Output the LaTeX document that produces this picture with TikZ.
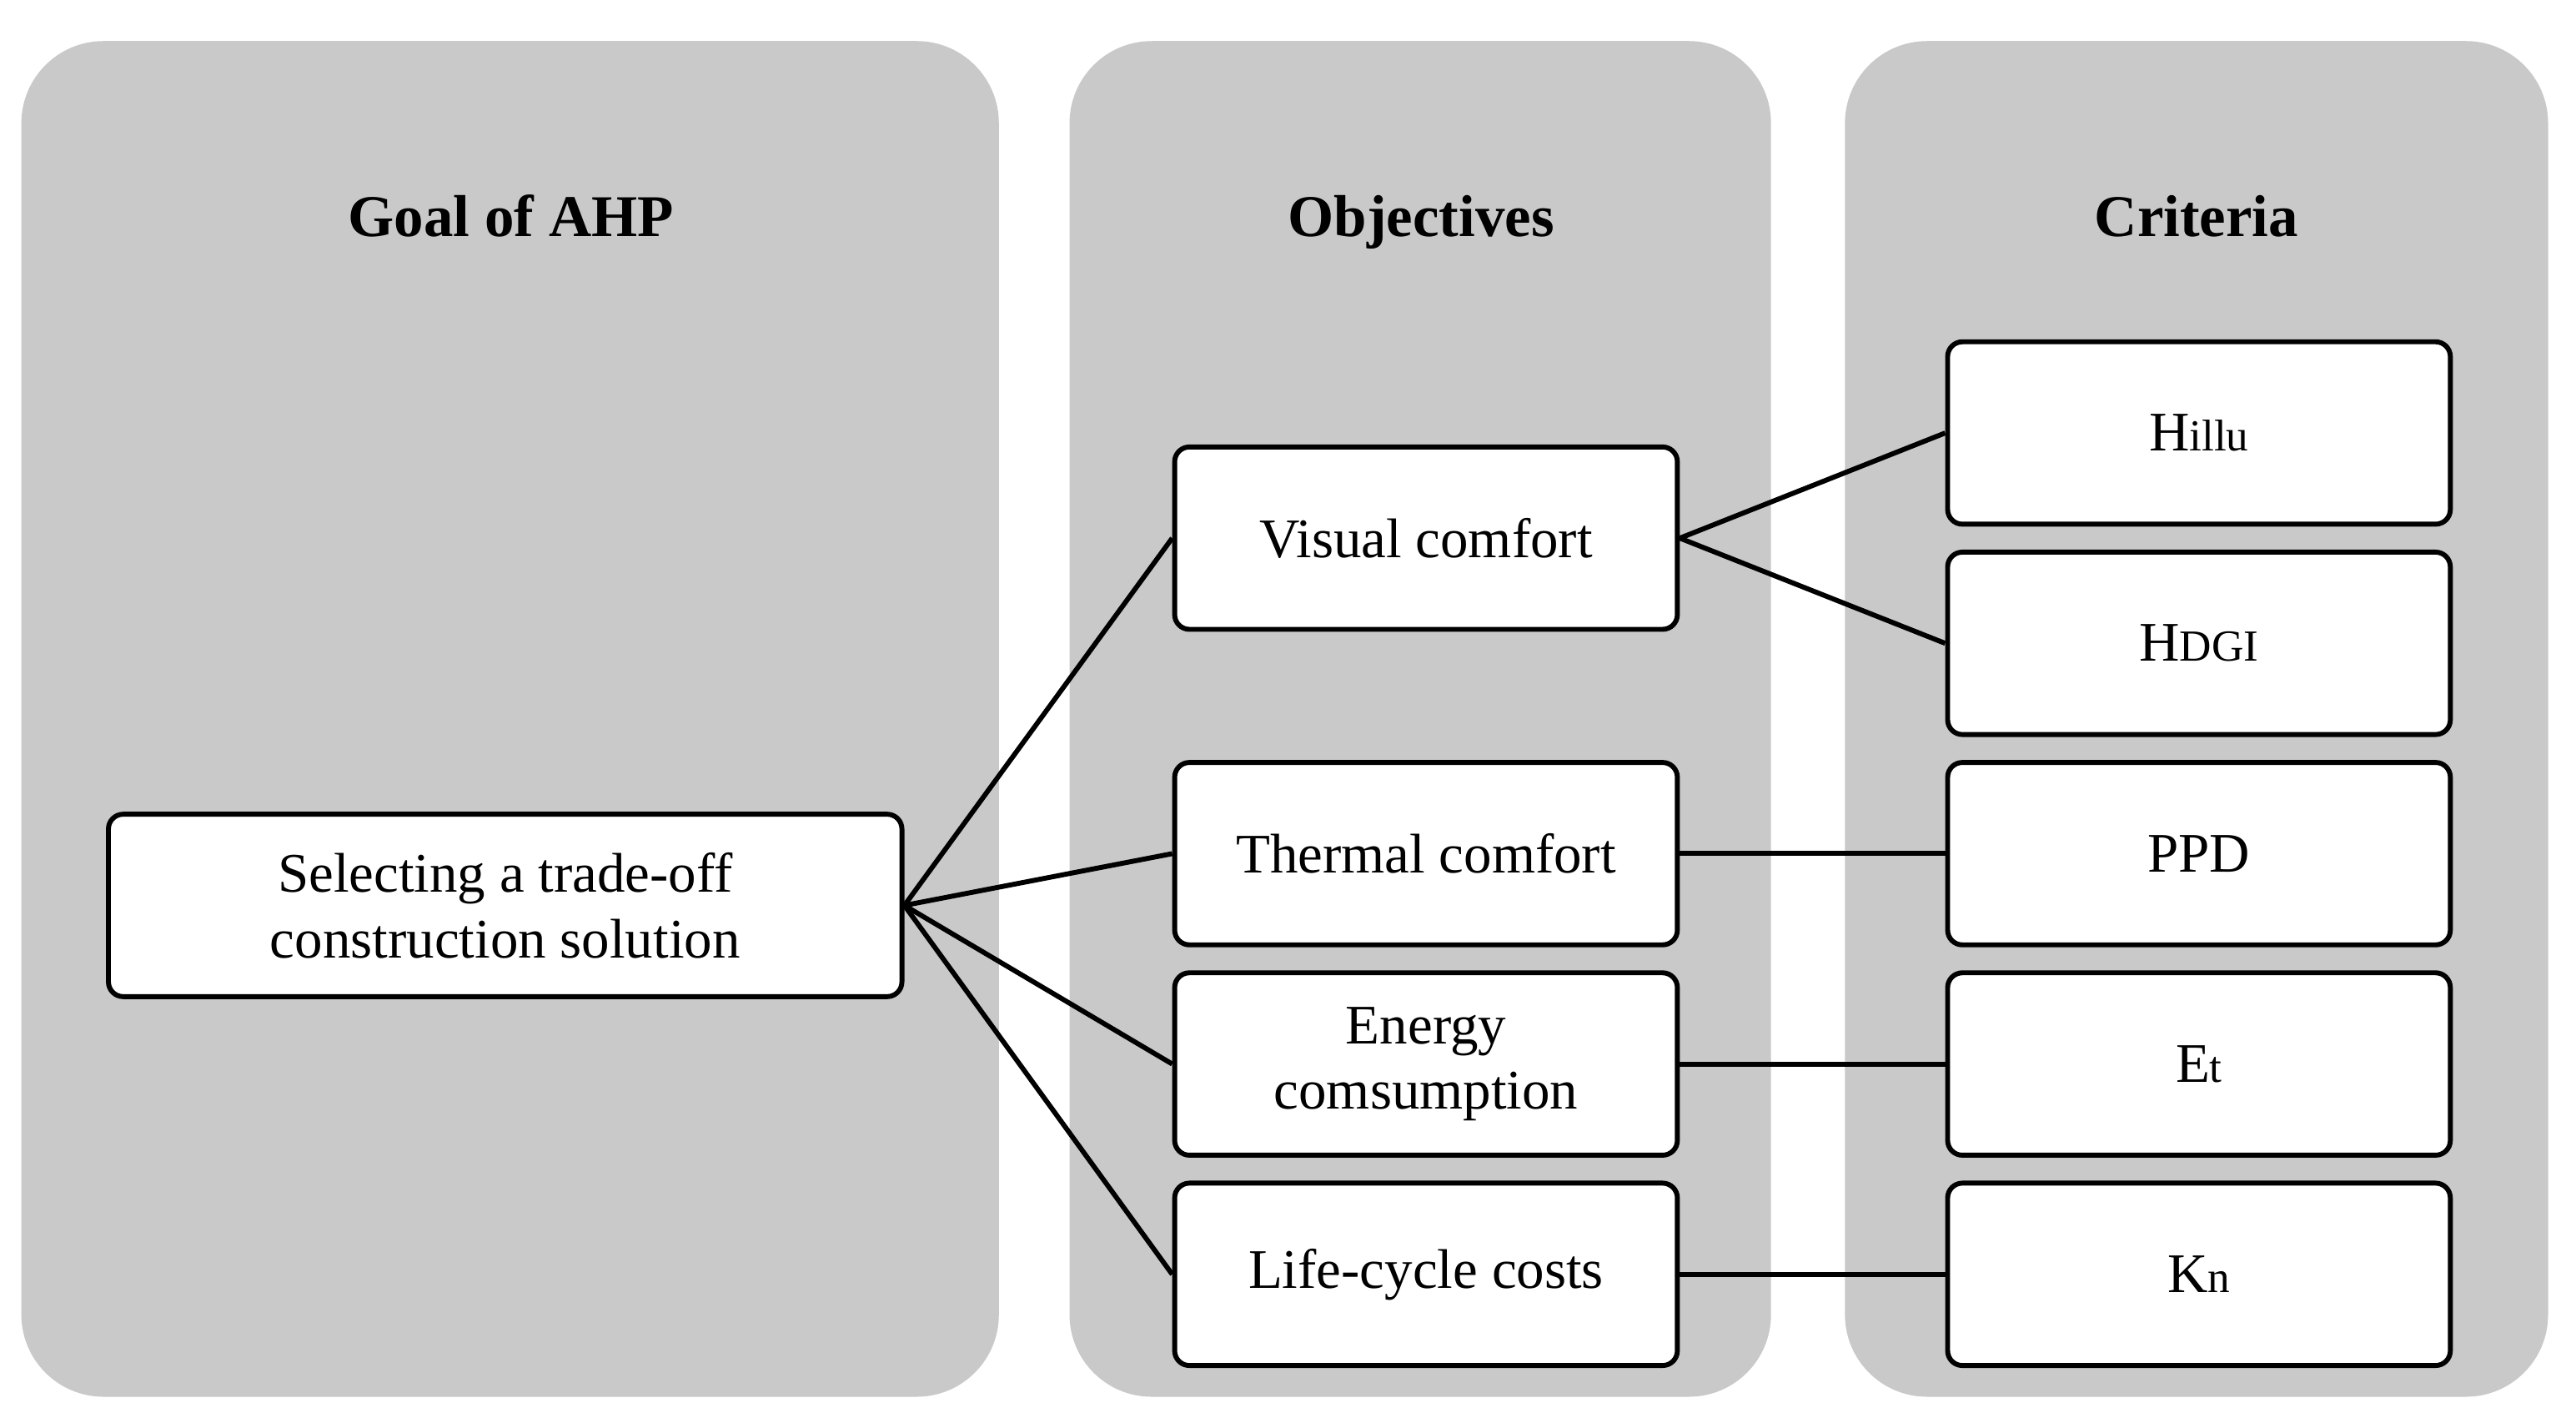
\documentclass[tikz,border=0pt]{standalone}
\usepackage{fontspec}
\setmainfont{Liberation Serif}
\begin{document}
\begin{tikzpicture}[x=1pt,y=-1pt,
 panel/.style={fill=black!21,draw=none,rounded corners=50pt},
 title/.style={font=\fontsize{36}{40}\selectfont\bfseries,anchor=base},
 box/.style={draw=black,line width=3pt,fill=white,rounded corners=9pt,minimum width=306pt,minimum height=111pt,align=center,font=\fontsize{34}{40}\selectfont,inner sep=0pt},
 link/.style={line width=3pt}]
\useasboundingbox (0,0) rectangle (1568,869);
\fill[white] (0,0) rectangle (1568,869);
\fill[panel] (13,25) rectangle (608,850);
\fill[panel] (651,25) rectangle (1078,850);
\fill[panel] (1123,25) rectangle (1551,850);
\node[title] (t1) at (311,144) {Goal of AHP};
\node[title] (t2) at (865,144) {Objectives};
\node[title] (t3) at (1337,144) {Criteria};
\node[box,minimum width=483pt] (g) at (307.5,551) {Selecting a trade-off\\construction solution};
\node[box] (o1) at (868,327.5) {Visual comfort};
\node[box] (o2) at (868,519.5) {Thermal comfort};
\node[box] (o3) at (868,647.5) {Energy\\comsumption};
\node[box] (o4) at (868,775.5) {Life-cycle costs};
\def\sm{\fontsize{27}{30}\selectfont}
\node[box] (c1) at (1338.5,263.5) {H{\sm illu}};
\node[box] (c2) at (1338.5,391.5) {H{\sm DGI}};
\node[box] (c3) at (1338.5,519.5) {PPD};
\node[box] (c4) at (1338.5,647.5) {E{\sm t}};
\node[box] (c5) at (1338.5,775.5) {K{\sm n}};
\foreach \o in {o1,o2,o3,o4} \draw[link] (g.east) -- (\o.west);
\draw[link] (o1.east) -- (c1.west);
\draw[link] (o1.east) -- (c2.west);
\draw[link] (o2.east) -- (c3.west);
\draw[link] (o3.east) -- (c4.west);
\draw[link] (o4.east) -- (c5.west);
\end{tikzpicture}
\end{document}
